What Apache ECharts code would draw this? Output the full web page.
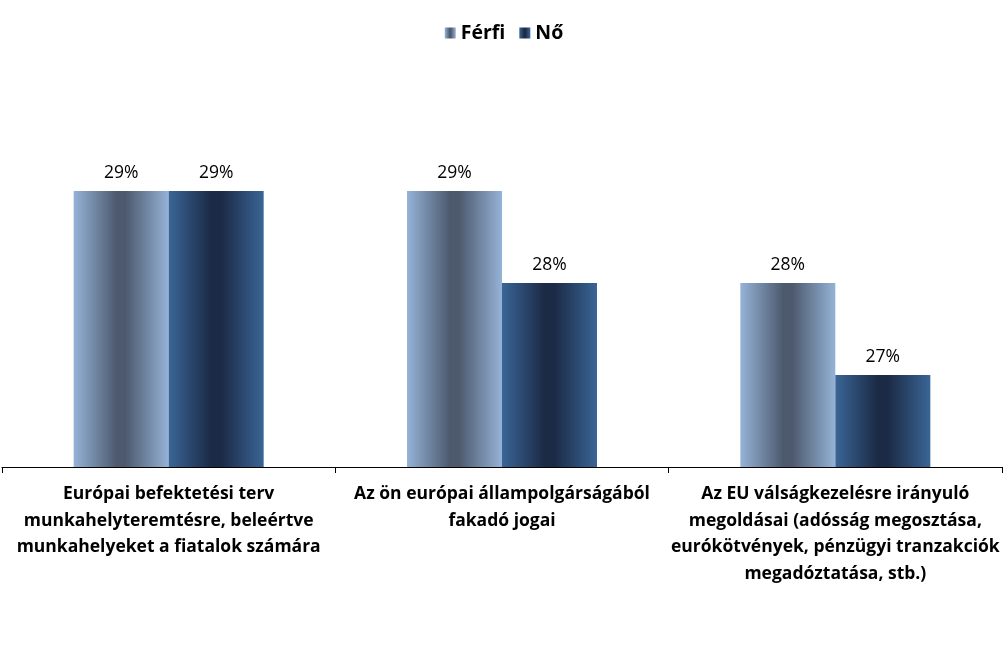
<!DOCTYPE html>
<html><head><meta charset="utf-8">
<script src="https://cdn.jsdelivr.net/npm/echarts@6/dist/echarts.min.js"></script>
<style>html,body{margin:0;padding:0;background:#fff}#c{width:1008px;height:661px}</style>
</head><body><div id="c"></div>
<script>
const categories = [
  'Európai befektetési terv\nmunkahelyteremtésre, beleértve\nmunkahelyeket a fiatalok számára',
  'Az ön európai állampolgárságából\nfakadó jogai',
  'Az EU válságkezelésre irányuló\nmegoldásai (adósság megosztása,\neurókötvények, pénzügyi tranzakciók\nmegadóztatása, stb.)'
];
const seriesNames = ['Férfi', 'Nő'];
const ferfi = [29, 29, 28];
const no = [29, 28, 27];

const FONT = '"Open Sans", Lato, sans-serif';
function grad(edge, mid) {
  return new echarts.graphic.LinearGradient(0, 0, 1, 0, [
    {offset: 0, color: edge},
    {offset: 0.45, color: mid},
    {offset: 0.55, color: mid},
    {offset: 1, color: edge}
  ]);
}
const chart = echarts.init(document.getElementById('c'), null, {renderer: 'canvas'});
const labelCfg = {
  show: true, position: 'top', distance: 9,
  formatter: p => p.value + '%',
  fontFamily: FONT, fontSize: 17.5, color: '#000'
};
chart.setOption({
  animation: false,
  legend: {
    top: 18, left: 'center', icon: 'rect',
    itemWidth: 11, itemHeight: 11, itemGap: 14,
    textStyle: {fontFamily: FONT, fontSize: 19.5, fontWeight: 'bold', color: '#000'},
    data: seriesNames
  },
  grid: {left: 2, right: 6, top: 99, bottom: 194, containLabel: false},
  xAxis: {
    type: 'category', data: categories,
    axisLine: {lineStyle: {color: '#000', width: 1}},
    axisTick: {show: true, length: 6, lineStyle: {color: '#000'}},
    axisLabel: {
      interval: 0, margin: 14, fontFamily: FONT, fontSize: 17.5, fontWeight: 'bold',
      color: '#000', lineHeight: 26.5
    }
  },
  yAxis: {type: 'value', min: 26, max: 30, show: false, splitLine: {show: false}},
  series: [
    {name: seriesNames[0], type: 'bar', data: ferfi, barGap: '0%', barCategoryGap: '43%',
     itemStyle: {color: grad('#95B3D7', '#4D5A6E')}, label: labelCfg},
    {name: seriesNames[1], type: 'bar', data: no,
     itemStyle: {color: grad('#3A6596', '#1B2A45')}, label: labelCfg}
  ]
});
</script></body></html>
